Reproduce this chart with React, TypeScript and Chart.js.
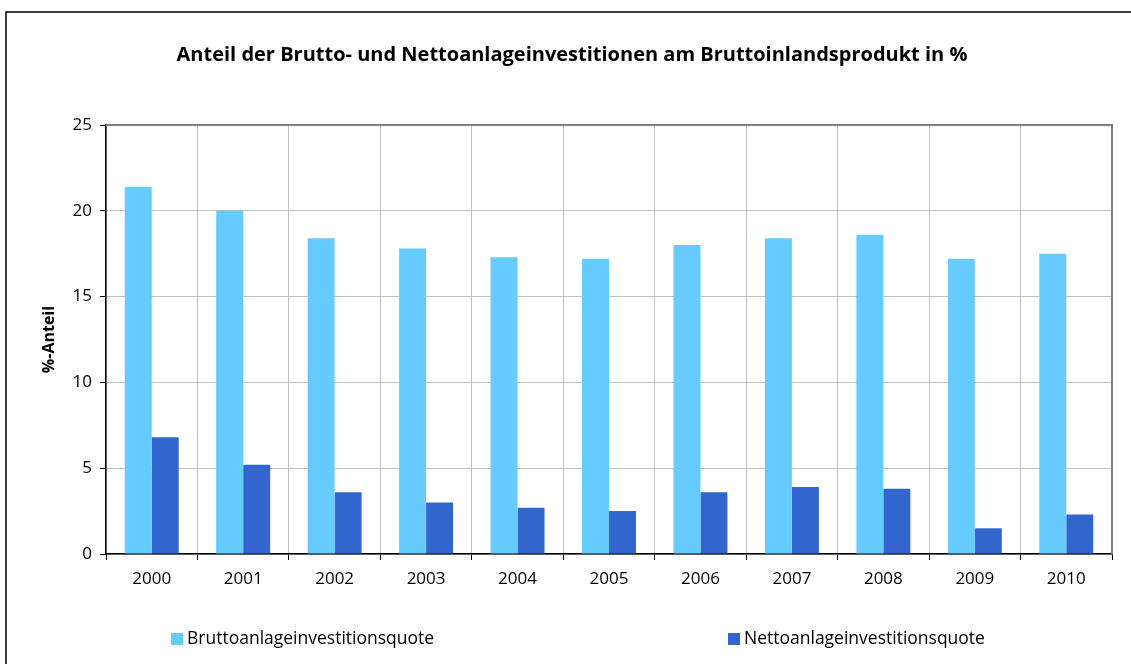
import React, { useEffect, useRef } from "react";
import { Chart, registerables } from "chart.js";

Chart.register(...registerables);

const TITLE = "Anteil der Brutto- und Nettoanlageinvestitionen am Bruttoinlandsprodukt in %";
const Y_TITLE = "%-Anteil";
const years = ["2000", "2001", "2002", "2003", "2004", "2005", "2006", "2007", "2008", "2009", "2010"];
const bruttoLabel = "Bruttoanlageinvestitionsquote";
const nettoLabel = "Nettoanlageinvestitionsquote";
const brutto = [21.4, 20.0, 18.4, 17.8, 17.3, 17.2, 18.0, 18.4, 18.6, 17.2, 17.5];
const netto = [6.8, 5.2, 3.6, 3.0, 2.7, 2.5, 3.6, 3.9, 3.8, 1.5, 2.3];
const yTicks = [0, 5, 10, 15, 20, 25];

const BRUTTO_COLOR = "#66CCFF";
const NETTO_COLOR = "#3366CC";
const FONT = "'Open Sans', 'Noto Sans', sans-serif";

const framePlugin = {
  id: "frame",
  beforeDraw(chart: any) {
    const ctx = chart.ctx;
    ctx.save();
    ctx.fillStyle = "#ffffff";
    ctx.fillRect(0, 0, chart.width, chart.height);
    ctx.strokeStyle = "#000000";
    ctx.lineWidth = 1.5;
    ctx.beginPath();
    ctx.moveTo(6, chart.height + 2);
    ctx.lineTo(6, 12);
    ctx.lineTo(chart.width + 2, 12);
    ctx.stroke();
    // title
    ctx.fillStyle = "#000000";
    ctx.font = `bold 20px ${FONT}`;
    ctx.textAlign = "center";
    ctx.textBaseline = "middle";
    ctx.fillText(TITLE, 572, 55);
    ctx.restore();
  },
  afterDraw(chart: any) {
    const ctx = chart.ctx;
    const a = chart.chartArea;
    ctx.save();
    ctx.strokeStyle = "#808080";
    ctx.lineWidth = 2;
    ctx.beginPath();
    ctx.moveTo(a.left, a.top);
    ctx.lineTo(a.right, a.top);
    ctx.lineTo(a.right, a.bottom);
    ctx.stroke();

    // legend
    const items = chart.data.datasets.map((d: any) => ({ text: d.label, color: d.backgroundColor }));
    const xs = [171, 728];
    const y = 639;
    ctx.font = `17.5px ${FONT}`;
    ctx.textBaseline = "middle";
    ctx.textAlign = "left";
    items.forEach((it: any, i: number) => {
      ctx.fillStyle = it.color;
      ctx.fillRect(xs[i], y - 6, 12, 12);
      ctx.fillStyle = "#000000";
      ctx.fillText(it.text, xs[i] + 16, y);
    });
    ctx.restore();
  },
};

export default function App() {
  const ref = useRef<HTMLCanvasElement>(null);
  useEffect(() => {
    if (!ref.current) return;
    const chart = new Chart(ref.current, {
      type: "bar",
      data: {
        labels: years,
        datasets: [
          {
            label: bruttoLabel,
            data: brutto,
            backgroundColor: BRUTTO_COLOR,
            categoryPercentage: 0.59,
            barPercentage: 1.0,
          },
          {
            label: nettoLabel,
            data: netto,
            backgroundColor: NETTO_COLOR,
            categoryPercentage: 0.59,
            barPercentage: 1.0,
          },
        ],
      },
      options: {
        animation: false,
        responsive: false,
        maintainAspectRatio: false,
        layout: { padding: { top: 125, left: 0, right: 19, bottom: 60 } },
        plugins: {
          legend: { display: false },
          tooltip: { enabled: false },
          title: { display: false },
        },
        scales: {
          x: {
            grid: {
              display: true,
              color: "#C0C0C0",
              lineWidth: 1,
              tickColor: "#000000",
              tickLength: 6,
              offset: true,
            },
            border: { display: true, color: "#000000", width: 1.5 },
            ticks: {
              color: "#000000",
              font: { family: FONT, size: 17 },
              padding: 9,
              maxRotation: 0,
              autoSkip: false,
            },
            afterFit: (s: any) => {
              s.height = 50;
            },
          },
          y: {
            min: 0,
            max: 25,
            afterBuildTicks: (s: any) => {
              s.ticks = yTicks.map((v) => ({ value: v }));
            },
            grid: {
              color: "#C0C0C0",
              lineWidth: 1,
              tickColor: "#000000",
              tickLength: 6,
            },
            border: { display: true, color: "#000000", width: 1.5 },
            ticks: {
              color: "#000000",
              font: { family: FONT, size: 17 },
              padding: 8,
            },
            title: {
              display: true,
              text: Y_TITLE,
              color: "#000000",
              font: { family: FONT, size: 16, weight: "bold" },
              padding: { top: 40, bottom: 0 },
            },
            afterFit: (s: any) => {
              s.width = 106;
            },
          },
        },
      },
      plugins: [framePlugin],
    });
    return () => chart.destroy();
  }, []);
  return (
    <div style={{ position: "absolute", left: 0, top: 0, width: 1131, height: 664, background: "#fff" }}>
      <canvas ref={ref} width={1131} height={664} style={{ display: "block" }} />
    </div>
  );
}
